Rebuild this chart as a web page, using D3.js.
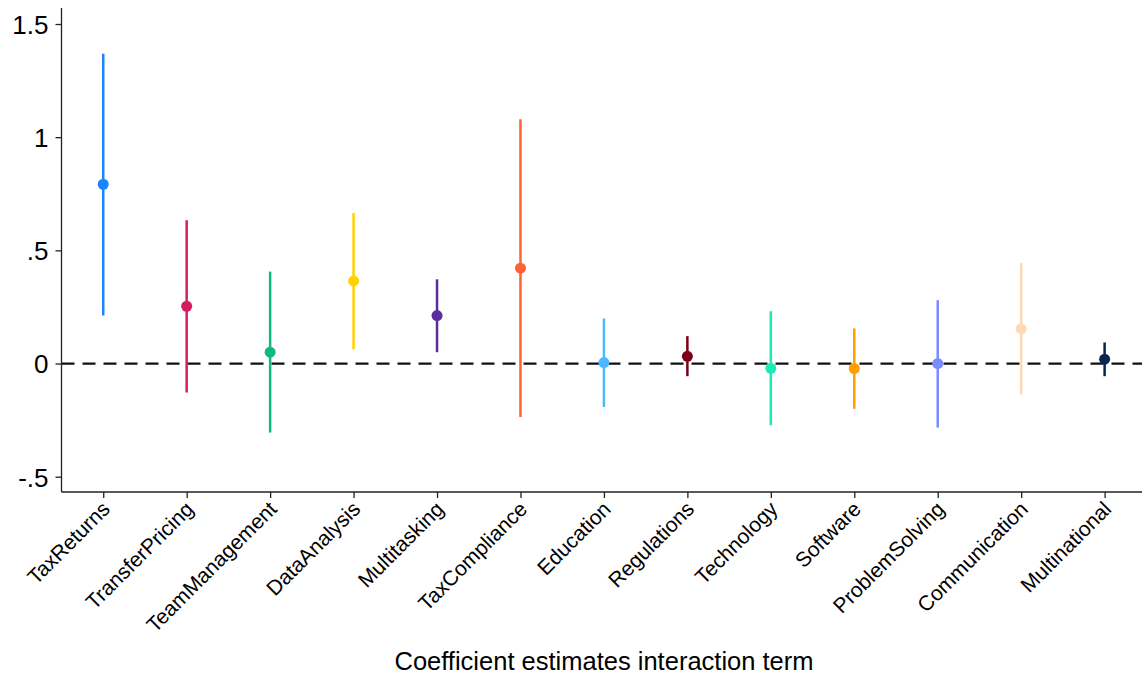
<!DOCTYPE html>
<html>
<head>
<meta charset="utf-8">
<script src="https://cdn.jsdelivr.net/npm/d3@7"></script>
<style>
  body { margin: 0; background: #fff; }
  svg { font-family: "Liberation Sans", Arial, Helvetica, sans-serif; }
</style>
</head>
<body>
<svg id="chart" width="1142" height="679"></svg>
<script>
const terms = ['TaxReturns', 'TransferPricing', 'TeamManagement', 'DataAnalysis', 'Multitasking',
    'TaxCompliance', 'Education', 'Regulations', 'Technology', 'Software',
    'ProblemSolving', 'Communication', 'Multinational'];
const estimates = [0.792, 0.253, 0.050, 0.365, 0.212, 0.421, 0.004, 0.032, -0.021, -0.022, 0.000, 0.153, 0.019];
const lower = [0.212, -0.128, -0.305, 0.062, 0.050, -0.236, -0.192, -0.056, -0.273, -0.200, -0.283, -0.137, -0.056];
const upper = [1.369, 0.633, 0.406, 0.665, 0.372, 1.079, 0.199, 0.121, 0.231, 0.155, 0.280, 0.444, 0.093];
const colors = ['#1a85ff', '#d81b60', '#10b981', '#ffd200', '#5a2ca0', '#ff6333', '#4db8ff',
    '#7a0019', '#1de9b6', '#ffa000', '#7b8cff', '#ffd8b5', '#0b2550'];
const yTicks = [-0.5, 0, 0.5, 1, 1.5];

const margin = {left: 61.5, top: 8};
const width = 1142, height = 679;

const svg = d3.select('#chart');

const x = d3.scaleLinear()
    .domain([0.5, terms.length + 0.5])
    .range([margin.left, margin.left + 83.45 * terms.length]);

const y = d3.scaleLinear()
    .domain([-0.5, 1.5])
    .range([476.7, 24]);

const yBottom = 492;

const data = terms.map((t, i) => ({term: t, est: estimates[i], lo: lower[i], hi: upper[i], color: colors[i], pos: i + 1}));

// zero reference line
svg.append('line')
    .attr('x1', margin.left)
    .attr('x2', width)
    .attr('y1', y(0))
    .attr('y2', y(0))
    .style('stroke', '#111')
    .style('stroke-width', 2.2)
    .style('stroke-dasharray', '13,8');

// y axis
const yAxis = svg.append('g')
    .attr('transform', `translate(${margin.left},0)`)
    .call(d3.axisLeft(y).tickValues(yTicks).tickSize(6).tickPadding(7)
        .tickFormat(d => d === 0 ? '0' : String(d).replace(/^(-?)0\./, '$1.')));
yAxis.select('.domain')
    .attr('d', `M0,${margin.top}V${yBottom}`);
yAxis.selectAll('line').style('stroke', '#222').style('stroke-width', 1.3);
yAxis.select('.domain').style('stroke', '#222').style('stroke-width', 1.3);
yAxis.selectAll('text')
    .style('font-size', '26px')
    .style('fill', '#000')
    .attr('dy', '0.36em');

// x axis
const xAxis = svg.append('g')
    .attr('transform', `translate(0,${yBottom})`)
    .call(d3.axisBottom(x).tickValues(d3.range(1, terms.length + 1)).tickSize(6)
        .tickFormat(d => terms[d - 1]));
xAxis.select('.domain')
    .attr('d', `M${margin.left},0H${width}`)
    .style('stroke', '#222').style('stroke-width', 1.3);
xAxis.selectAll('line').style('stroke', '#222').style('stroke-width', 1.3);
xAxis.selectAll('text')
    .style('font-size', '21px')
    .style('fill', '#000')
    .style('text-anchor', 'end')
    .attr('x', -7.7)
    .attr('y', 18.3)
    .attr('dy', 0)
    .attr('transform', 'rotate(-45)');

// confidence intervals
svg.selectAll('.ci')
    .data(data)
    .join('line')
        .classed('ci', true)
        .attr('x1', d => x(d.pos))
        .attr('x2', d => x(d.pos))
        .attr('y1', d => y(d.lo))
        .attr('y2', d => y(d.hi))
        .style('stroke', d => d.color)
        .style('stroke-width', 2.5);

// point estimates
svg.selectAll('.est')
    .data(data)
    .join('circle')
        .classed('est', true)
        .attr('cx', d => x(d.pos))
        .attr('cy', d => y(d.est))
        .attr('r', 5.5)
        .style('fill', d => d.color);

// axis title
svg.append('text')
    .attr('x', 604)
    .attr('y', 670)
    .style('text-anchor', 'middle')
    .style('font-size', '25.5px')
    .style('fill', '#000')
    .text('Coefficient estimates interaction term');
</script>
</body>
</html>
